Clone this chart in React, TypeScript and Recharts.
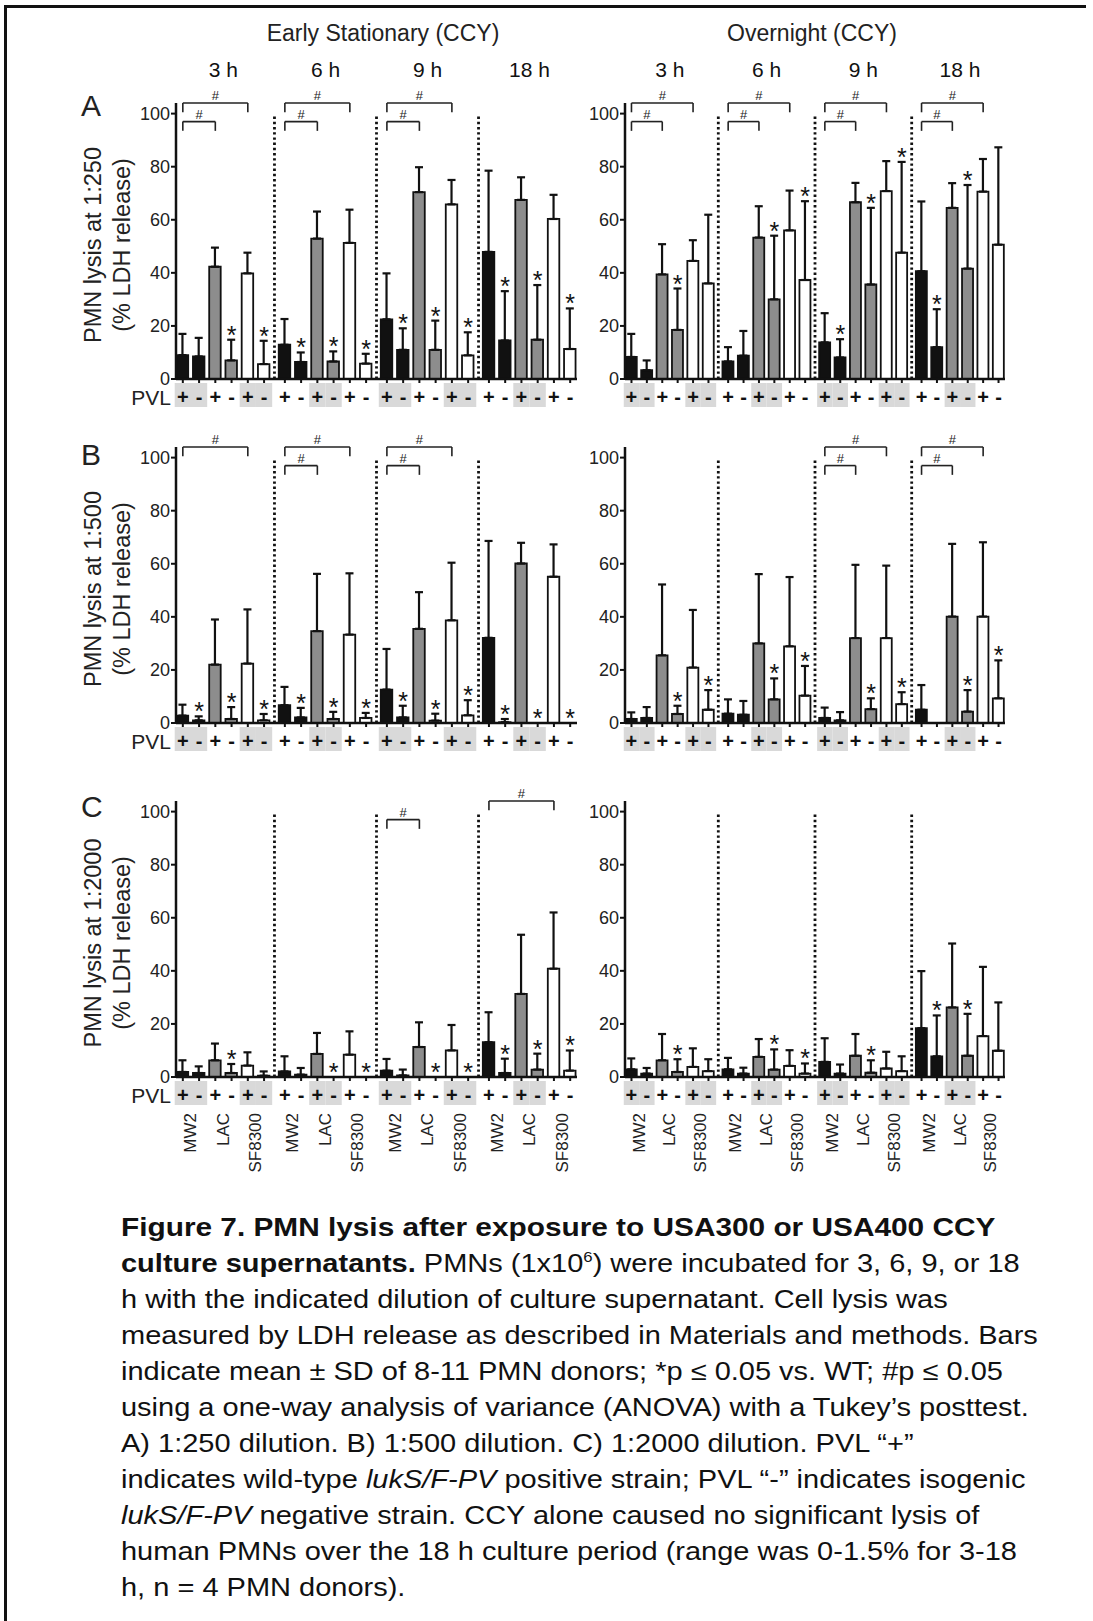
import React from 'react';
import {
  ComposedChart, Bar, Cell, ErrorBar, Line, XAxis, YAxis,
  ReferenceLine, ReferenceDot, Label,
} from 'recharts';

const FONT = '"Liberation Sans", Arial, Helvetica, sans-serif';

const times = ['3 h', '6 h', '9 h', '18 h'];
const strains = ['MW2', 'LAC', 'SF8300'];
const pvl = ['+', '-'];
const yTicks = [0, 20, 40, 60, 80, 100];

// order inside each time: MW2+, MW2-, LAC+, LAC-, SF8300+, SF8300-
// A) 1:250, early stationary
const esA_mean = [9, 8.5, 42.3, 7, 39.8, 5.6, 12.9, 6.4, 52.9, 6.6, 51.3, 5.8, 22.5, 11, 70.4, 11, 65.8, 8.9, 47.9, 14.5, 67.5, 14.8, 60.3, 11.3];
const esA_sd = [8, 7, 7.2, 7.8, 7.8, 8.8, 9.7, 3.6, 10.2, 3.8, 12.5, 3.7, 17.3, 8.1, 9.4, 11, 9.2, 8.7, 30.6, 18.6, 8.5, 20.6, 9.1, 15.3];
const esA_star = [0, 0, 0, 1, 0, 1, 0, 1, 0, 1, 0, 1, 0, 1, 0, 1, 0, 1, 0, 1, 0, 1, 0, 1];
const esA_hash = [[0, 1], [0, 2], [1, 1], [1, 2], [2, 1], [2, 2]];

// A) 1:250, overnight
const onA_mean = [8.3, 3.3, 39.4, 18.5, 44.5, 36, 6.6, 8.8, 53.3, 30, 56, 37.3, 13.8, 8.1, 66.6, 35.6, 70.8, 47.6, 40.6, 12, 64.5, 41.6, 70.6, 50.6];
const onA_sd = [8.7, 3.7, 11.4, 15.6, 7.8, 25.9, 5.4, 9.3, 11.8, 24, 15, 29.7, 11, 6.9, 7.3, 28.9, 11.3, 34.2, 26.3, 14.3, 9.3, 31.5, 12.3, 36.7];
const onA_star = [0, 0, 0, 1, 0, 0, 0, 0, 0, 1, 0, 1, 0, 1, 0, 1, 0, 1, 0, 1, 0, 1, 0, 0];
const onA_hash = [[0, 1], [0, 2], [1, 1], [1, 2], [2, 1], [2, 2], [3, 1], [3, 2]];

// B) 1:500, early stationary
const esB_mean = [2.8, 1, 22, 1.5, 22.4, 1, 6.7, 2.1, 34.6, 1.5, 33.3, 1.9, 12.6, 2.1, 35.5, 0.9, 38.7, 2.9, 32.1, 0.3, 60.1, 0, 55.1, 0];
const esB_sd = [4.1, 1.5, 17, 4.5, 20.4, 2.4, 6.9, 3.6, 21.6, 2.7, 23.1, 1.9, 15.3, 4.4, 13.8, 2.6, 21.7, 5.7, 36.5, 1.2, 7.8, 0, 12.2, 0];
const esB_star = [0, 1, 0, 1, 0, 1, 0, 1, 0, 1, 0, 1, 0, 1, 0, 1, 0, 1, 0, 1, 0, 1, 0, 1];
const esB_hash = [[0, 2], [1, 1], [1, 2], [2, 1], [2, 2]];

// B) 1:500, overnight
const onB_mean = [1.5, 1.9, 25.5, 3.4, 20.9, 5, 3.5, 3.1, 30, 8.9, 28.9, 10.3, 1.9, 1, 32, 5.2, 32, 7.1, 5, 0, 40.1, 4.3, 40.1, 9.3];
const onB_sd = [2.5, 4.1, 26.7, 3.1, 21.7, 7.4, 5.4, 5.2, 26.1, 7.9, 26.1, 11.2, 3.9, 3.1, 27.6, 4.1, 27.3, 4.5, 9.3, 0, 27.4, 8.1, 28, 14.3];
const onB_star = [0, 0, 0, 1, 0, 1, 0, 0, 0, 1, 0, 1, 0, 0, 0, 1, 0, 1, 0, 0, 0, 1, 0, 1];
const onB_hash = [[2, 1], [2, 2], [3, 1], [3, 2]];

// C) 1:2000, early stationary
const esC_mean = [1.9, 1.5, 6.3, 1.5, 4.3, 0.5, 2.1, 0.9, 8.7, 0, 8.4, 0, 2.4, 0.6, 11.3, 0, 10, 0, 13.1, 1.5, 31.3, 2.8, 40.8, 2.4];
const esC_sd = [4.4, 2.5, 6.3, 3.4, 5, 1.6, 5.7, 2.5, 7.9, 0, 8.8, 0, 4.4, 2.2, 9.3, 0, 9.6, 0, 11.3, 5.4, 22.3, 6, 21.2, 7.6];
const esC_star = [0, 0, 0, 1, 0, 0, 0, 0, 0, 1, 0, 1, 0, 0, 0, 1, 0, 1, 0, 1, 0, 1, 0, 1];
const esC_hash = [[2, 1], [3, 2]];

// C) 1:2000, overnight
const onC_mean = [2.9, 1.3, 6.3, 1.9, 3.8, 2.2, 2.9, 1.3, 7.6, 2.8, 4.2, 1.3, 5.7, 1.3, 8, 1.6, 3.2, 2.2, 18.4, 7.8, 26.2, 8, 15.4, 9.9];
const onC_sd = [4.1, 2.1, 9.9, 4.8, 7, 4.5, 4.3, 2.2, 6.7, 7.6, 5.9, 3.8, 8.9, 3.4, 8.2, 4.7, 6.3, 5.6, 21.5, 15.4, 24.1, 15.8, 26.1, 18.2];
const onC_star = [0, 0, 0, 1, 0, 0, 0, 0, 0, 1, 0, 1, 0, 0, 0, 1, 0, 0, 0, 1, 0, 1, 0, 0];
const onC_hash: number[][] = [];

const strainFill = ['#111111', '#8d8d8d', '#ffffff'];

// layout of the x scale (in bar slots)
const GROUP = 6.28;
const X_MIN = -0.42;
const X_MAX = 3 * GROUP + 5.42;
const PLOT_H = 276;
const rowPlotTop = [103, 447, 801];
const rowMargin = [10, 20, 20];

const barPos = Array.from({ length: 24 }, (_, i) => Math.floor(i / 6) * GROUP + (i % 6));
const pairPos = Array.from({ length: 12 }, (_, j) => Math.floor(j / 3) * GROUP + (j % 3) * 2 + 0.5);
const groupPos = times.map((_, g) => g * GROUP + 2.5);
const sepPos = [1, 2, 3].map((g) => g * GROUP - (GROUP - 5) / 2);

const signTick = (slotPx: number) => (p: any) => {
  const i = p.index;
  const shaded = Math.floor(i / 2) % 2 === 0;
  return (
    <g key={`s${i}`}>
      {shaded && <rect x={p.x - slotPx / 2} y={p.y - 2} width={slotPx} height={24} fill="#d9d9d9" />}
      <text x={p.x} y={p.y + 19} textAnchor="middle" fontSize={20} fontWeight="bold" fill="#111" fontFamily={FONT}>
        {pvl[i % 2]}
      </text>
    </g>
  );
};

const strainTick = (p: any) => (
  <text
    key={`n${p.index}`}
    transform={`translate(${p.x},${p.y + 4}) rotate(-90)`}
    textAnchor="end"
    dominantBaseline="central"
    fontSize={17}
    fill="#222"
    fontFamily={FONT}
  >
    {strains[p.index % 3]}
  </text>
);

const timeTick = (p: any) => (
  <text key={`t${p.index}`} x={p.x} y={p.y - 26} textAnchor="middle" fontSize={21} fill="#111" fontFamily={FONT}>
    {times[p.index]}
  </text>
);

const starDot = (p: any) => {
  if (p.value == null || p.cy == null || Number.isNaN(p.cy)) return <g key={`st${p.index}`} />;
  return (
    <text key={`st${p.index}`} x={p.cx} y={p.cy + 4} textAnchor="middle" fontSize={25} fill="#111" fontFamily={FONT}>
      *
    </text>
  );
};

const yLabel = (dilution: string) => (props: any) => {
  const { x, y, width, height } = props.viewBox;
  const cy = y + height / 2 + 4;
  return (
    <g fontFamily={FONT} fill="#222">
      <text transform={`translate(${x + 27},${cy}) rotate(-90)`} textAnchor="middle" dominantBaseline="central" fontSize={23.5}>
        {`PMN lysis at ${dilution}`}
      </text>
      <text transform={`translate(${x + 56},${cy}) rotate(-90)`} textAnchor="middle" dominantBaseline="central" fontSize={23.5}>
        (% LDH release)
      </text>
      <text x={x + width - 5} y={y + height + 26} textAnchor="end" fontSize={21}>
        PVL
      </text>
    </g>
  );
};

type PanelProps = {
  mean: number[];
  sd: number[];
  star: number[];
  hash: number[][];
  row: number;
  side: number;
  dilution?: string;
};

const Panel = ({ mean, sd, star, hash, row, side, dilution }: PanelProps) => {
  const left = side === 0;
  const yW = left ? 110 : 50;
  const plotW = left ? 401 : 380;
  const slotPx = plotW / (X_MAX - X_MIN);
  const topAxis = row === 0 ? 40 : 0;
  const bottomExtra = row === 2 ? 80 : 0;
  const mt = rowMargin[row];
  const width = yW + plotW + 10;
  const height = mt + topAxis + PLOT_H + 32 + bottomExtra;
  const chartLeft = (left ? 176 : 625) - yW;
  const chartTop = rowPlotTop[row] - mt - topAxis;

  const data = mean.map((m, i) => ({
    pos: barPos[i],
    mean: m,
    err: [0, sd[i]],
    star: star[i] ? m + sd[i] : null,
  }));

  const line = { stroke: '#222', strokeWidth: 1.6, ifOverflow: 'visible' as const };
  const brackets = hash.flatMap(([g, s], j) => {
    const x1 = g * GROUP;
    const x2 = g * GROUP + 2 * s;
    const yv = s === 1 ? 97 : 104;
    return [
      <ReferenceLine key={`bh${j}`} segment={[{ x: x1, y: yv }, { x: x2, y: yv }]} {...line} />,
      <ReferenceLine key={`bl${j}`} segment={[{ x: x1, y: yv }, { x: x1, y: yv - 3.5 }]} {...line} />,
      <ReferenceLine key={`br${j}`} segment={[{ x: x2, y: yv }, { x: x2, y: yv - 3.5 }]} {...line} />,
      <ReferenceDot
        key={`bd${j}`}
        x={(x1 + x2) / 2}
        y={yv}
        r={0}
        ifOverflow="visible"
        shape={(p: any) => (
          <text x={p.cx} y={p.cy - 3} textAnchor="middle" fontSize={13} fill="#222" fontFamily={FONT}>
            #
          </text>
        )}
      />,
    ];
  });

  return (
    <div style={{ position: 'absolute', left: chartLeft, top: chartTop }}>
      <ComposedChart width={width} height={height} data={data} margin={{ top: mt, right: 10, bottom: 0, left: 0 }}>
        <XAxis
          xAxisId={0}
          type="number"
          dataKey="pos"
          domain={[X_MIN, X_MAX]}
          ticks={barPos}
          interval={0}
          allowDataOverflow
          height={32}
          axisLine={{ stroke: '#111', strokeWidth: 2.5 }}
          tickLine={{ stroke: '#111', strokeWidth: 2 }}
          tickSize={4}
          tickMargin={2}
          tick={signTick(slotPx)}
        />
        {row === 2 && (
          <XAxis
            xAxisId="strain"
            type="number"
            dataKey="pos"
            domain={[X_MIN, X_MAX]}
            ticks={pairPos}
            interval={0}
            allowDataOverflow
            height={80}
            axisLine={false}
            tickLine={false}
            tickSize={0}
            tickMargin={0}
            tick={strainTick}
          />
        )}
        {row === 0 && (
          <XAxis
            xAxisId="time"
            orientation="top"
            type="number"
            dataKey="pos"
            domain={[X_MIN, X_MAX]}
            ticks={groupPos}
            interval={0}
            allowDataOverflow
            height={40}
            axisLine={false}
            tickLine={false}
            tickSize={0}
            tickMargin={0}
            tick={timeTick}
          />
        )}
        <YAxis
          type="number"
          domain={[0, 104]}
          ticks={yTicks}
          interval={0}
          allowDataOverflow
          width={yW}
          axisLine={{ stroke: '#111', strokeWidth: 2.5 }}
          tickLine={{ stroke: '#111', strokeWidth: 2 }}
          tickSize={5}
          tickMargin={1}
          tick={{ fontSize: 18, fill: '#222', fontFamily: FONT }}
        >
          {left && dilution && <Label content={yLabel(dilution)} />}
        </YAxis>
        {sepPos.map((x, i) => (
          <ReferenceLine
            key={`sep${i}`}
            segment={[{ x, y: 0 }, { x, y: 99 }]}
            stroke="#111"
            strokeWidth={2.8}
            strokeDasharray="2.4 2.8"
            ifOverflow="visible"
          />
        ))}
        {brackets}
        <Bar dataKey="mean" barSize={left ? 11.5 : 11} stroke="#111" strokeWidth={1.8} isAnimationActive={false}>
          {data.map((_, i) => (
            <Cell key={`c${i}`} fill={strainFill[Math.floor((i % 6) / 2)]} />
          ))}
          <ErrorBar dataKey="err" width={4} strokeWidth={2.2} stroke="#111" direction="y" />
        </Bar>
        <Line
          dataKey="star"
          stroke="none"
          dot={starDot}
          activeDot={false}
          legendType="none"
          isAnimationActive={false}
        />
      </ComposedChart>
    </div>
  );
};

const capLine: React.CSSProperties = {
  position: 'absolute',
  left: 121,
  height: 36,
  lineHeight: '36px',
  fontSize: 26,
  whiteSpace: 'nowrap',
  transformOrigin: 'left center',
  color: '#111',
};

const captionLines: React.ReactNode[] = [
  <b>Figure 7. PMN lysis after exposure to USA300 or USA400 CCY</b>,
  <>
    <b>culture supernatants.</b> PMNs (1x10
    <span style={{ fontSize: 15, position: 'relative', top: -10 }}>6</span>) were incubated for 3, 6, 9, or 18
  </>,
  'h with the indicated dilution of culture supernatant. Cell lysis was',
  'measured by LDH release as described in Materials and methods. Bars',
  'indicate mean ± SD of 8-11 PMN donors; *p ≤ 0.05 vs. WT; #p ≤ 0.05',
  'using a one-way analysis of variance (ANOVA) with a Tukey’s posttest.',
  'A) 1:250 dilution. B) 1:500 dilution. C) 1:2000 dilution. PVL “+”',
  <>
    indicates wild-type <i>lukS/F-PV</i> positive strain; PVL “-” indicates isogenic
  </>,
  <>
    <i>lukS/F-PV</i> negative strain. CCY alone caused no significant lysis of
  </>,
  'human PMNs over the 18 h culture period (range was 0-1.5% for 3-18',
  'h, n = 4 PMN donors).',
];

export default function App() {
  return (
    <div style={{ position: 'absolute', left: 0, top: 0, width: 1093, height: 1621, background: '#fff', fontFamily: FONT, overflow: 'hidden' }}>
      <svg width={1093} height={1621} style={{ position: 'absolute', left: 0, top: 0 }}>
        <line x1={4} y1={6.5} x2={1086} y2={6.5} stroke="#111" strokeWidth={3} />
        <line x1={5.5} y1={5} x2={5.5} y2={1621} stroke="#111" strokeWidth={3} />
        <g fontFamily={FONT} fill="#222">
          <text x={383} y={41} textAnchor="middle" fontSize={23}>Early Stationary (CCY)</text>
          <text x={812} y={41} textAnchor="middle" fontSize={23}>Overnight (CCY)</text>
          <text x={81} y={116} fontSize={30}>A</text>
          <text x={81} y={465} fontSize={30}>B</text>
          <text x={81} y={817} fontSize={30}>C</text>
        </g>
      </svg>

      <Panel mean={esA_mean} sd={esA_sd} star={esA_star} hash={esA_hash} row={0} side={0} dilution="1:250" />
      <Panel mean={onA_mean} sd={onA_sd} star={onA_star} hash={onA_hash} row={0} side={1} />
      <Panel mean={esB_mean} sd={esB_sd} star={esB_star} hash={esB_hash} row={1} side={0} dilution="1:500" />
      <Panel mean={onB_mean} sd={onB_sd} star={onB_star} hash={onB_hash} row={1} side={1} />
      <Panel mean={esC_mean} sd={esC_sd} star={esC_star} hash={esC_hash} row={2} side={0} dilution="1:2000" />
      <Panel mean={onC_mean} sd={onC_sd} star={onC_star} hash={onC_hash} row={2} side={1} />

      {captionLines.map((ln, i) => (
        <div
          key={`cap${i}`}
          style={{
            ...capLine,
            top: 1209 + i * 36,
            fontWeight: i === 0 ? 'bold' : 'normal',
            transform: `scaleX(${i === 0 ? 1.146 : 1.115})`,
          }}
        >
          {ln}
        </div>
      ))}
    </div>
  );
}
